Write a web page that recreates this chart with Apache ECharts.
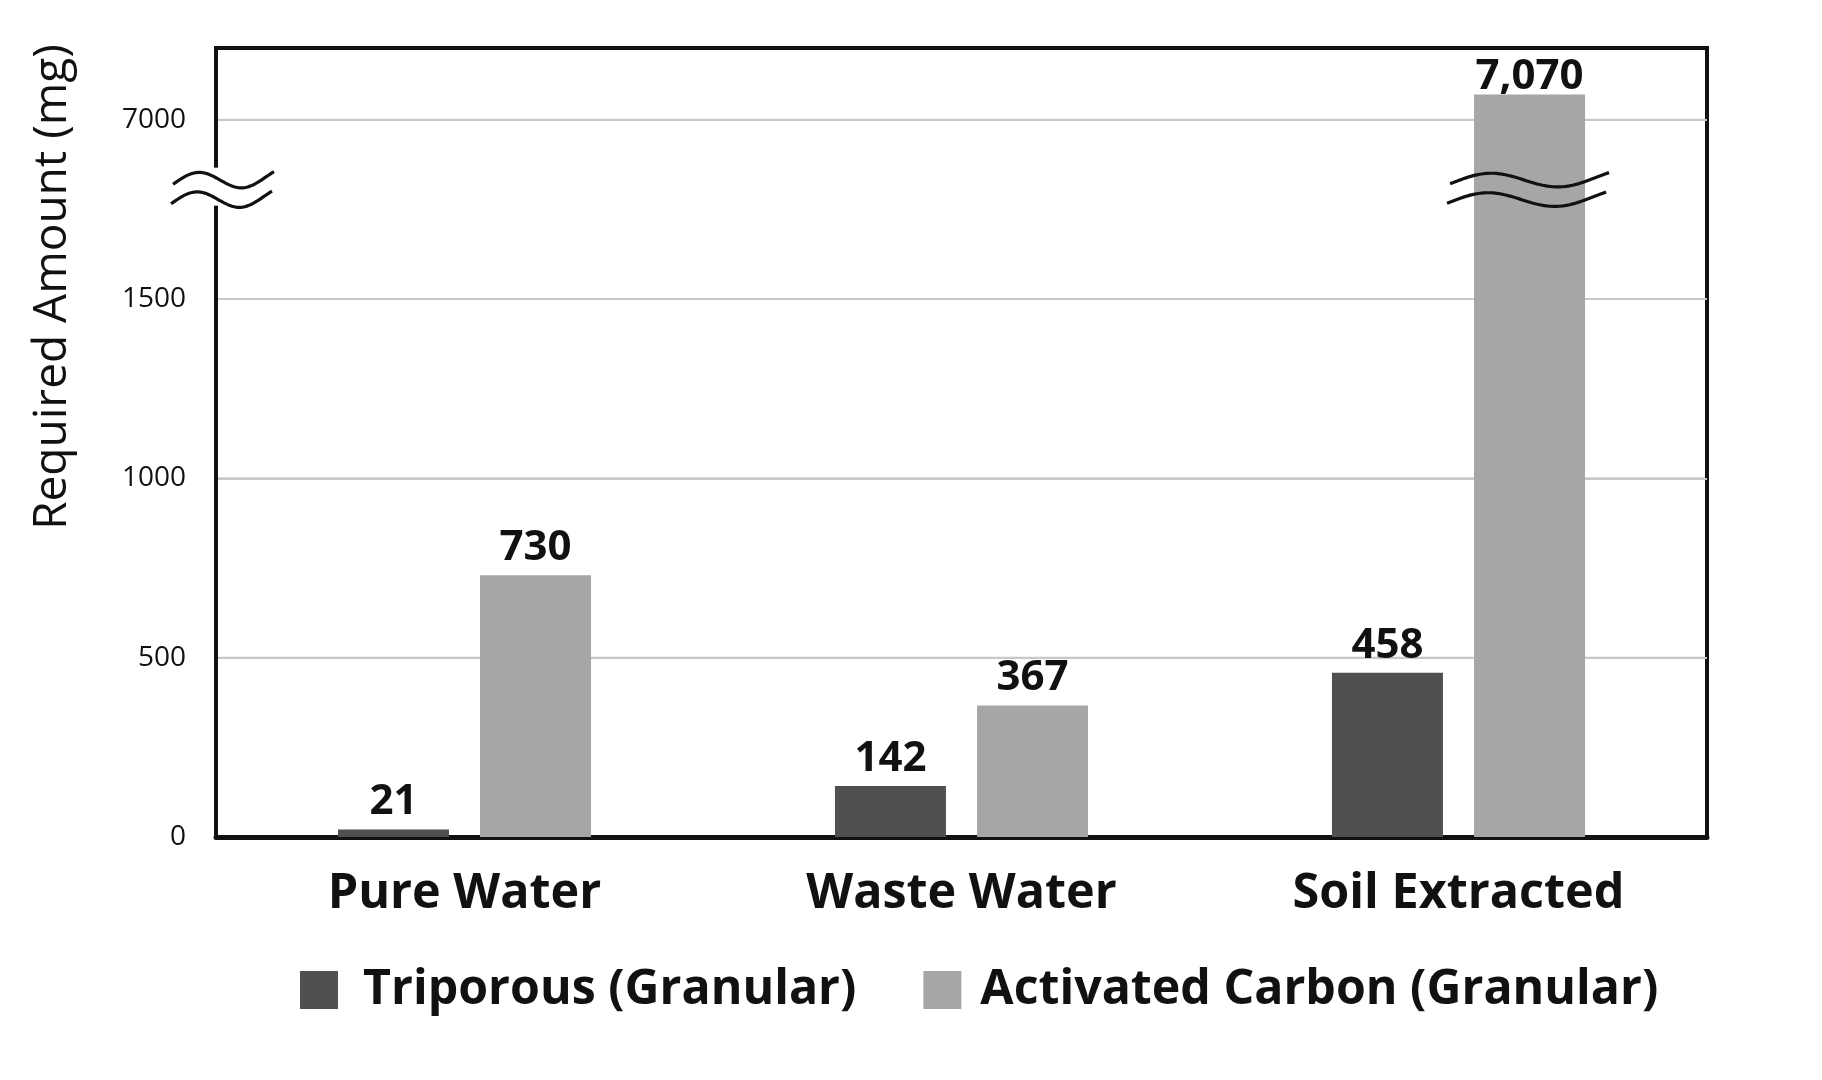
<!DOCTYPE html>
<html>
<head>
<meta charset="utf-8">
<script src="https://cdn.jsdelivr.net/npm/echarts@6/dist/echarts.min.js"></script>
<style>html,body{margin:0;padding:0;background:#fff;}#c{width:1822px;height:1080px;}</style>
</head>
<body>
<div id="c"></div>
<script>
const categories = ['Pure Water', 'Waste Water', 'Soil Extracted'];
const triporous = [21, 142, 458];
const activated = [730, 367, 7070];
const seriesNames = ['Triporous (Granular)', 'Activated Carbon (Granular)'];
const yTicks = [0, 500, 1000, 1500, 7000];
const yTitle = 'Required Amount (mg)';
const breakStart = 1780, breakEnd = 6830, breakGap = 50;

const FONT = '"Open Sans", "Noto Sans", sans-serif';
const chart = echarts.init(document.getElementById('c'), null, {renderer: 'canvas'});
const fmt = p => Number(p.value).toLocaleString('en-US');
const labelBase = {show: true, position: 'top', distance: 6, fontFamily: FONT, fontSize: 42, fontWeight: 'bold', color: '#111', formatter: fmt};

chart.setOption({
  animation: false,
  backgroundColor: '#fff',
  grid: {left: 216, right: 115, top: 48, bottom: 243, show: true, borderColor: '#111', borderWidth: 4, backgroundColor: 'transparent'},
  legend: {
    left: 300, top: 966, padding: 0, itemWidth: 38, itemHeight: 38, itemGap: 67, icon: 'rect',
    textStyle: {fontFamily: FONT, fontSize: 48.3, fontWeight: 'bold', color: '#111'},
    data: [
      {name: seriesNames[0], textStyle: {padding: [0, 0, 0, 20]}},
      {name: seriesNames[1], textStyle: {padding: [0, 0, 0, 14]}}
    ]
  },
  xAxis: {
    type: 'category', data: categories,
    axisLine: {lineStyle: {color: '#111', width: 5}},
    axisTick: {show: false},
    axisLabel: {fontFamily: FONT, fontSize: 48.5, fontWeight: 'bold', color: '#111', margin: 33}
  },
  yAxis: {
    type: 'value', min: 0, max: 7200, interval: 500,
    breaks: [{start: breakStart, end: breakEnd, gap: breakGap}],
    breakArea: {show: false},
    axisLine: {show: true, lineStyle: {color: '#111', width: 4}},
    axisTick: {show: false, customValues: yTicks},
    splitLine: {show: true, lineStyle: {color: '#c8c8c8', width: 2}},
    axisLabel: {fontFamily: FONT, fontSize: 28, color: '#111', margin: 30, customValues: yTicks,
      formatter: v => String(v)}
  },
  series: [
    {name: seriesNames[0], type: 'bar', data: triporous, barWidth: 111, barGap: '28%',
     itemStyle: {color: '#505050'}, label: labelBase},
    {name: seriesNames[1], type: 'bar', barWidth: 111,
     data: activated.map(v => v > breakEnd ? {value: v, label: {distance: -3}} : v),
     itemStyle: {color: '#a6a6a6'}, label: labelBase}
  ]
});

function wavePoints(cx, cy, w, amp, dx) {
  const pts = [];
  const N = 48;
  for (let i = 0; i <= N; i++) {
    const f = i / N;
    const g = -Math.sin(2 * Math.PI * (f - 0.0225) / 0.89) + 0.33 * (1 - 2 * f);
    pts.push([cx - w / 2 + dx + f * w, cy + amp * g]);
  }
  return pts;
}

function drawBreaks() {
  const y1 = chart.convertToPixel({yAxisIndex: 0}, breakStart);
  const y2 = chart.convertToPixel({yAxisIndex: 0}, breakEnd);
  const cy = (y1 + y2) / 2;
  const axisX = chart.convertToPixel({xAxisIndex: 0}, 0) - (chart.getWidth() - 216 - 115) / 6;
  const lay = chart.getModel().getSeriesByIndex(1).getData().getItemLayout(2);
  const barCx = lay.x + lay.width / 2;
  const els = [];
  const lineStyle = {stroke: '#111', lineWidth: 3.2, fill: null};
  // gridlines for custom ticks (in case splitLine ignores custom values)
  yTicks.forEach(v => {
    if (v === 0) return;
    const y = chart.convertToPixel({yAxisIndex: 0}, v);
    els.push({type: 'line', z: 1, silent: true, shape: {x1: 218, y1: y, x2: chart.getWidth() - 117, y2: y},
      style: {stroke: '#c8c8c8', lineWidth: 2}});
  });
  // left axis break
  els.push({type: 'rect', z: 100, shape: {x: axisX - 5, y: cy - 22, width: 10, height: 38}, style: {fill: '#fff'}});
  els.push({type: 'polyline', z: 101, shape: {points: wavePoints(axisX + 7.5, cy - 9.75, 101, 9, 0)}, style: lineStyle});
  els.push({type: 'polyline', z: 101, shape: {points: wavePoints(axisX + 7.5, cy + 9.75, 101, 9, -2)}, style: lineStyle});
  // bar break
  els.push({type: 'polyline', z: 101, shape: {points: wavePoints(barCx, cy - 9.75, 159, 8, 0)}, style: lineStyle});
  els.push({type: 'polyline', z: 101, shape: {points: wavePoints(barCx, cy + 9.75, 159, 8, -3)}, style: lineStyle});
  // y axis title
  els.push({type: 'text', z: 101, x: 53, y: 287, rotation: Math.PI / 2,
    style: {text: yTitle, font: '46px ' + FONT, fill: '#111', textAlign: 'center', textVerticalAlign: 'middle'}});
  chart.setOption({graphic: {elements: els}});
}
drawBreaks();
</script>
</body>
</html>
